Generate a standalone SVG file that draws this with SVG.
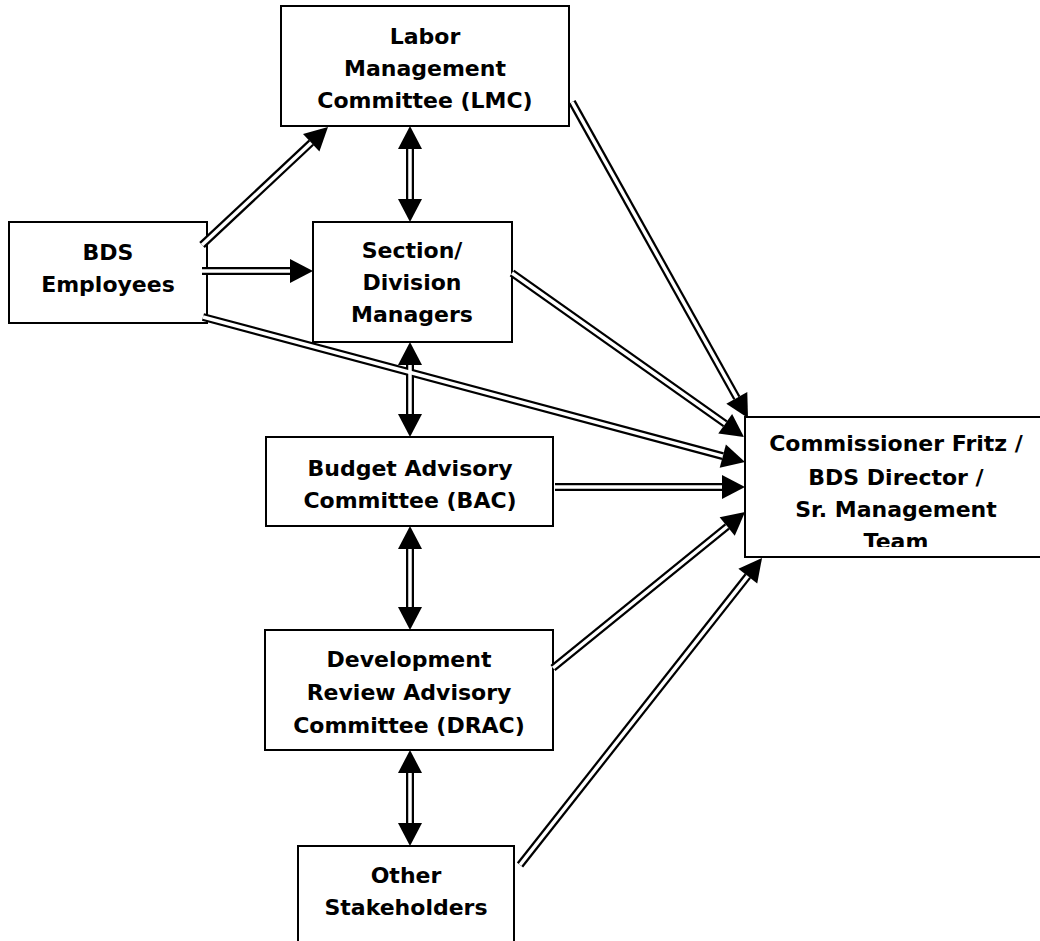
<svg xmlns="http://www.w3.org/2000/svg" width="1040" height="941" viewBox="0 0 1040 941">
<style>
.box{fill:#fff;stroke:#000;stroke-width:2}
.t{font-family:"DejaVu Sans","Liberation Sans",sans-serif;font-weight:bold;font-size:22px;text-anchor:middle;fill:#000}
.ob{fill:none;stroke:#000;stroke-width:8}
.ib{fill:none;stroke:#fff;stroke-width:3.5}
</style>
<defs>
<marker id="ah" markerUnits="userSpaceOnUse" markerWidth="24" markerHeight="24" viewBox="0 -12 23 24" refX="0" refY="0" orient="auto-start-reverse" overflow="visible">
<path d="M0,-12 L23,0 L0,12 Z" fill="#000"/>
</marker>
<clipPath id="cc"><rect x="745" y="417" width="300" height="130"/></clipPath>
</defs>
<rect width="1040" height="941" fill="#fff"/>
<g id="lmc"><rect class="box" x="281" y="6" width="288" height="120"/>
<text class="t" x="425" y="44">Labor</text><text class="t" x="425" y="76">Management</text><text class="t" x="425" y="108">Committee (LMC)</text></g>
<g id="bds"><rect class="box" x="9" y="222" width="198" height="101"/>
<text class="t" x="108" y="260">BDS</text><text class="t" x="108" y="292">Employees</text></g>
<g id="section"><rect class="box" x="313" y="222" width="199" height="120"/>
<text class="t" x="412" y="258">Section/</text><text class="t" x="412" y="290">Division</text><text class="t" x="412" y="322">Managers</text></g>
<g id="bac"><rect class="box" x="266" y="437" width="287" height="89"/>
<text class="t" x="410" y="476">Budget Advisory</text><text class="t" x="410" y="508">Committee (BAC)</text></g>
<g id="drac"><rect class="box" x="265" y="630" width="288" height="120"/>
<text class="t" x="409" y="667">Development</text><text class="t" x="409" y="700">Review Advisory</text><text class="t" x="409" y="733">Committee (DRAC)</text></g>
<g id="other"><rect class="box" x="298" y="846" width="216" height="110"/>
<text class="t" x="406" y="883">Other</text><text class="t" x="406" y="915">Stakeholders</text></g>
<g id="comm"><rect class="box" x="745" y="417" width="300" height="140"/>
<g clip-path="url(#cc)"><text class="t" x="896" y="451">Commissioner Fritz /</text><text class="t" x="896" y="485">BDS Director /</text><text class="t" x="896" y="517">Sr. Management</text><text class="t" x="896" y="549">Team</text></g></g>
<g id="connectors">
<g class="outer">
<path class="ob" marker-end="url(#ah)" d="M202,245 L311.2,142.7"/>
<path class="ob" marker-end="url(#ah)" d="M202,271 L290,271"/>
<path class="ob" marker-end="url(#ah)" d="M203,317 L722.8,456.1"/>
<path class="ob" marker-start="url(#ah)" marker-end="url(#ah)" d="M410,149 L410,199"/>
<path class="ob" marker-end="url(#ah)" d="M572,102 L736.8,397.9"/>
<path class="ob" marker-end="url(#ah)" d="M512,273 L725.2,423.7"/>
<path class="ob" marker-start="url(#ah)" marker-end="url(#ah)" d="M410,365 L410,414"/>
<path class="ob" marker-end="url(#ah)" d="M555,487 L722,487"/>
<path class="ob" marker-start="url(#ah)" marker-end="url(#ah)" d="M410,549 L410,607"/>
<path class="ob" marker-end="url(#ah)" d="M553,668 L727.2,526.5"/>
<path class="ob" marker-start="url(#ah)" marker-end="url(#ah)" d="M410,773 L410,823"/>
<path class="ob" marker-end="url(#ah)" d="M520,865 L747.8,576.1"/>
</g>
<g class="inner">
<path class="ib" d="M202,245 L311.2,142.7"/>
<path class="ib" d="M202,271 L290,271"/>
<path class="ib" d="M203,317 L722.8,456.1"/>
<path class="ib" d="M410,149 L410,199"/>
<path class="ib" d="M572,102 L736.8,397.9"/>
<path class="ib" d="M512,273 L725.2,423.7"/>
<path class="ib" d="M410,365 L410,414"/>
<path class="ib" d="M555,487 L722,487"/>
<path class="ib" d="M410,549 L410,607"/>
<path class="ib" d="M553,668 L727.2,526.5"/>
<path class="ib" d="M410,773 L410,823"/>
<path class="ib" d="M520,865 L747.8,576.1"/>
</g>
</g>
</svg>
